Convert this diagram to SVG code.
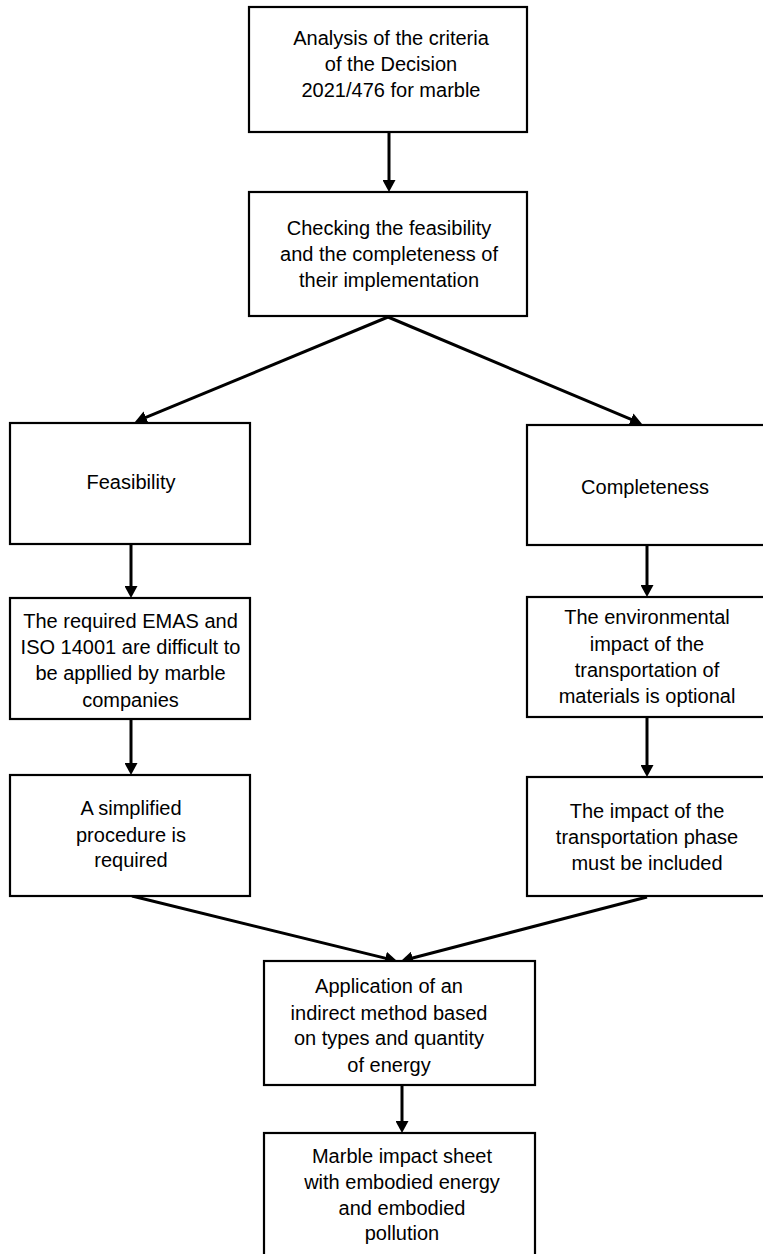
<svg xmlns="http://www.w3.org/2000/svg" width="763" height="1254" viewBox="0 0 763 1254">
<style>
.box{fill:#fff;stroke:#000;stroke-width:2.2}
.t{font-family:"Liberation Sans",Arial,sans-serif;font-size:20px;fill:#000;text-anchor:middle}
.c{stroke:#000;stroke-width:3;fill:none;marker-end:url(#ah)}
</style>
<defs>
<marker id="ah" markerUnits="userSpaceOnUse" markerWidth="12" markerHeight="13" refX="6" refY="6.5" orient="auto">
<path d="M0,0 L12,6.5 L0,13 z" fill="#000"/>
</marker>
</defs>
<rect width="763" height="1254" fill="#fff"/>
<g id="connectors">
<line class="c" x1="389" y1="132" x2="389" y2="186"/>
<line class="c" x1="388" y1="317" x2="140.5" y2="419.7"/>
<line class="c" x1="388" y1="317" x2="636.5" y2="421.7"/>
<line class="c" x1="131" y1="544" x2="131" y2="592"/>
<line class="c" x1="647" y1="545" x2="647" y2="591"/>
<line class="c" x1="131" y1="719" x2="131" y2="769"/>
<line class="c" x1="647" y1="717" x2="647" y2="771"/>
<line class="c" x1="132" y1="896" x2="391.2" y2="959.6"/>
<line class="c" x1="647" y1="897" x2="406.8" y2="959.5"/>
<line class="c" x1="402" y1="1085" x2="402" y2="1127"/>
</g>
<g id="n1">
<rect class="box" x="249" y="7" width="278" height="125"/>
<text class="t" x="391" y="45">Analysis of the criteria</text>
<text class="t" x="391" y="71">of the Decision</text>
<text class="t" x="391" y="97">2021/476 for marble</text>
</g>
<g id="n2">
<rect class="box" x="249" y="192" width="278" height="124"/>
<text class="t" x="389" y="235">Checking the feasibility</text>
<text class="t" x="389" y="261">and the completeness of</text>
<text class="t" x="389" y="287">their implementation</text>
</g>
<g id="n3">
<rect class="box" x="10" y="423" width="240" height="121"/>
<text class="t" x="131" y="489">Feasibility</text>
</g>
<g id="n4">
<rect class="box" x="527" y="425" width="240" height="120"/>
<text class="t" x="645" y="494">Completeness</text>
</g>
<g id="n5">
<rect class="box" x="10" y="598" width="240" height="121"/>
<text class="t" x="130.5" y="628">The required EMAS and</text>
<text class="t" x="130.5" y="654">ISO 14001 are difficult to</text>
<text class="t" x="130.5" y="680">be appllied by marble</text>
<text class="t" x="130.5" y="707">companies</text>
</g>
<g id="n6">
<rect class="box" x="527" y="597" width="240" height="120"/>
<text class="t" x="647" y="624">The environmental</text>
<text class="t" x="647" y="651">impact of the</text>
<text class="t" x="647" y="677">transportation of</text>
<text class="t" x="647" y="703">materials is optional</text>
</g>
<g id="n7">
<rect class="box" x="10" y="775" width="240" height="121"/>
<text class="t" x="131" y="815">A simplified</text>
<text class="t" x="131" y="842">procedure is</text>
<text class="t" x="131" y="867">required</text>
</g>
<g id="n8">
<rect class="box" x="527" y="777" width="240" height="119"/>
<text class="t" x="647" y="818">The impact of the</text>
<text class="t" x="647" y="844">transportation phase</text>
<text class="t" x="647" y="870">must be included</text>
</g>
<g id="n9">
<rect class="box" x="264" y="961" width="271" height="124"/>
<text class="t" x="389" y="993">Application of an</text>
<text class="t" x="389" y="1020">indirect method based</text>
<text class="t" x="389" y="1045">on types and quantity</text>
<text class="t" x="389" y="1072">of energy</text>
</g>
<g id="n10">
<rect class="box" x="264" y="1133" width="271" height="130"/>
<text class="t" x="402" y="1163">Marble impact sheet</text>
<text class="t" x="402" y="1189">with embodied energy</text>
<text class="t" x="402" y="1215">and embodied</text>
<text class="t" x="402" y="1240">pollution</text>
</g>
</svg>
